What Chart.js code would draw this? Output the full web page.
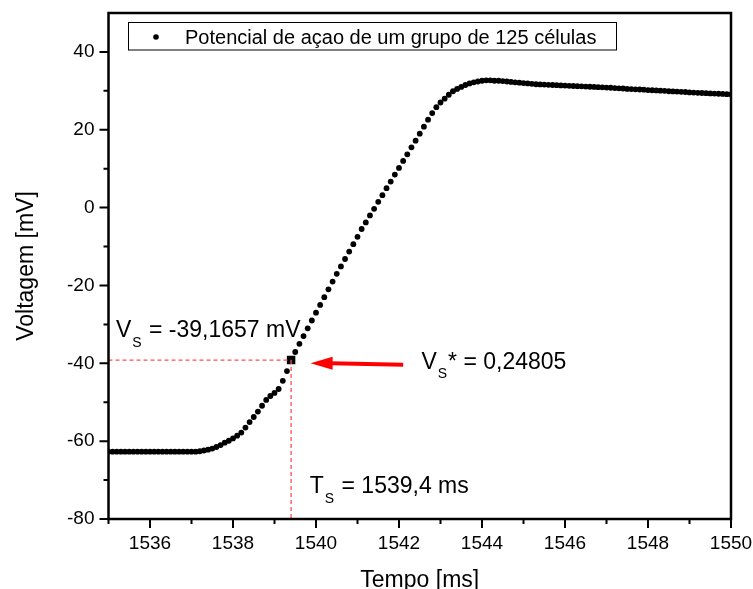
<!DOCTYPE html>
<html><head><meta charset="utf-8">
<script src="https://cdn.jsdelivr.net/npm/chart.js@4.4.0/dist/chart.umd.min.js"></script>
<style>html,body{margin:0;padding:0;background:#fff;}canvas{display:block;}</style>
</head><body>
<canvas id="c" width="753" height="589"></canvas>
<script>
// ---- data ----
const times = [
 1535.0,1535.1,1535.2,1535.3,1535.4,1535.5,1535.6,1535.7,1535.8,1535.9,
 1536.0,1536.1,1536.2,1536.3,1536.4,1536.5,1536.6,1536.7,1536.8,1536.9,
 1537.0,1537.1,1537.2,1537.3,1537.4,1537.5,1537.6,1537.7,1537.8,1537.9,
 1538.0,1538.1,1538.2,1538.3,1538.4,1538.5,1538.6,1538.7,1538.8,1538.9,
 1539.0,1539.1,1539.2,1539.3,1539.4,1539.5,1539.6,1539.7,1539.8,1539.9,
 1540.0,1540.1,1540.2,1540.3,1540.4,1540.5,1540.6,1540.7,1540.8,1540.9,
 1541.0,1541.1,1541.2,1541.3,1541.4,1541.5,1541.6,1541.7,1541.8,1541.9,
 1542.0,1542.1,1542.2,1542.3,1542.4,1542.5,1542.6,1542.7,1542.8,1542.9,
 1543.0,1543.1,1543.2,1543.3,1543.4,1543.5,1543.6,1543.7,1543.8,1543.9,
 1544.0,1544.1,1544.2,1544.3,1544.4,1544.5,1544.6,1544.7,1544.8,1544.9,
 1545.0,1545.1,1545.2,1545.3,1545.4,1545.5,1545.6,1545.7,1545.8,1545.9,
 1546.0,1546.1,1546.2,1546.3,1546.4,1546.5,1546.6,1546.7,1546.8,1546.9,
 1547.0,1547.1,1547.2,1547.3,1547.4,1547.5,1547.6,1547.7,1547.8,1547.9,
 1548.0,1548.1,1548.2,1548.3,1548.4,1548.5,1548.6,1548.7,1548.8,1548.9,
 1549.0,1549.1,1549.2,1549.3,1549.4,1549.5,1549.6,1549.7,1549.8,1549.9,
 1550.0
];
const voltage = [
 -62.7,-62.7,-62.7,-62.7,-62.7,-62.7,-62.7,-62.7,-62.7,-62.7,
 -62.7,-62.7,-62.7,-62.7,-62.7,-62.7,-62.7,-62.7,-62.7,-62.7,
 -62.7,-62.7,-62.6,-62.4,-62.2,-61.9,-61.5,-61.0,-60.4,-59.9,
 -59.3,-58.6,-57.8,-56.5,-55.1,-53.8,-52.4,-50.9,-49.4,-48.4,
 -47.6,-46.6,-44.5,-42.0,-39.2,-37.1,-35.0,-33.0,-31.0,-29.0,
 -27.0,-25.0,-23.0,-21.0,-19.0,-17.0,-15.1,-13.2,-11.3,-9.4,
 -7.5,-5.5,-3.8,-2.0,-0.3,1.5,3.2,5.0,6.7,8.5,
 10.2,12.0,13.7,15.5,17.2,19.0,20.8,22.6,24.3,25.8,
 27.0,28.0,29.0,29.9,30.5,31.0,31.5,31.9,32.2,32.4,
 32.6,32.7,32.7,32.6,32.6,32.5,32.4,32.3,32.2,32.1,
 32.0,31.9,31.8,31.7,31.65,31.6,31.55,31.5,31.45,31.4,
 31.35,31.3,31.25,31.2,31.15,31.1,31.05,31.0,30.95,30.9,
 30.85,30.8,30.7,30.65,30.6,30.5,30.45,30.4,30.35,30.3,
 30.2,30.15,30.1,30.05,30.0,29.9,29.85,29.8,29.75,29.7,
 29.6,29.55,29.5,29.45,29.4,29.35,29.3,29.25,29.2,29.15,
 29.1
];
const thresholdT = [1539.4];
const thresholdV = [-39.1657];
const xMajorTicks = [1536,1538,1540,1542,1544,1546,1548,1550];
const xMinorTicks = [1535,1537,1539,1541,1543,1545,1547,1549];
const yMajorTicks = [-80,-60,-40,-20,0,20,40];
const yMinorTicks = [-70,-50,-30,-10,10,30];
const seriesLabel = 'Potencial de açao de um grupo de 125 células';
const xTitle = 'Tempo [ms]';
const yTitle = 'Voltagem [mV]';
const vsText = ['V','S',' = -39,1657 mV'];
const vsStarText = ['V','S','*',' = 0,24805'];
const tsText = ['T','S',' = 1539,4 ms'];
// annotation anchors, in data units
const vsAnchor = [1535.18, -33.2];
const vsStarAnchor = [1542.54, -41.4];
const tsAnchor = [1539.85, -73.4];
const arrowFrom = [1542.1, -40.4];
const arrowTo = [1539.87, -40.0];

const FONT = "'Liberation Sans', Arial, sans-serif";

function subText(ctx, parts, x, y, size) {
  ctx.font = size + 'px ' + FONT;
  ctx.fillText(parts[0], x, y);
  let cx = x + ctx.measureText(parts[0]).width + 1;
  ctx.font = Math.round(size*0.6) + 'px ' + FONT;
  ctx.fillText(parts[1], cx, y + size*0.42);
  let sw = ctx.measureText(parts[1]).width;
  let rest = parts[parts.length-1];
  if (parts.length === 4) {
    ctx.font = size + 'px ' + FONT;
    ctx.fillText(parts[2], cx + sw + 1, y);
    cx = cx + sw + 1 + ctx.measureText(parts[2]).width;
  } else {
    cx = cx + sw + 1;
  }
  ctx.font = size + 'px ' + FONT;
  ctx.fillText(rest, cx, y);
}

const deco = {
  id: 'deco',
  afterDatasetsDraw(chart) {
    const {ctx, chartArea: a, scales: {x, y}} = chart;
    const px = x.getPixelForValue(thresholdT[0]);
    const py = y.getPixelForValue(thresholdV[0]);
    ctx.save();
    ctx.strokeStyle = '#ff5050';
    ctx.lineWidth = 1.3;
    ctx.setLineDash([4, 3]);
    ctx.beginPath();
    ctx.moveTo(a.left, py); ctx.lineTo(px, py);
    ctx.moveTo(px, py); ctx.lineTo(px, a.bottom);
    ctx.stroke();
    ctx.restore();

    const x1 = x.getPixelForValue(arrowFrom[0]), y1 = y.getPixelForValue(arrowFrom[1]);
    const x2 = x.getPixelForValue(arrowTo[0]), y2 = y.getPixelForValue(arrowTo[1]);
    ctx.save();
    ctx.strokeStyle = '#ff0000'; ctx.fillStyle = '#ff0000';
    ctx.lineWidth = 4;
    ctx.beginPath(); ctx.moveTo(x1, y1); ctx.lineTo(x2 + 20, y2); ctx.stroke();
    ctx.beginPath();
    ctx.moveTo(x2, y2); ctx.lineTo(x2 + 22, y2 - 6.5); ctx.lineTo(x2 + 22, y2 + 6.5); ctx.closePath();
    ctx.fill();
    ctx.restore();
  },
  afterDraw(chart) {
    const {ctx, chartArea: a, scales: {x, y}} = chart;
    ctx.save();
    ctx.strokeStyle = '#000';
    ctx.lineCap = 'butt';
    ctx.lineWidth = 2;
    ctx.beginPath();
    xMajorTicks.forEach(v => { const p = x.getPixelForValue(v); ctx.moveTo(p, a.bottom); ctx.lineTo(p, a.bottom + 9); });
    xMinorTicks.forEach(v => { const p = x.getPixelForValue(v); ctx.moveTo(p, a.bottom); ctx.lineTo(p, a.bottom + 5); });
    yMajorTicks.forEach(v => { const p = y.getPixelForValue(v); ctx.moveTo(a.left, p); ctx.lineTo(a.left - 9, p); });
    yMinorTicks.forEach(v => { const p = y.getPixelForValue(v); ctx.moveTo(a.left, p); ctx.lineTo(a.left - 5, p); });
    ctx.stroke();
    ctx.lineWidth = 2.5;
    ctx.strokeRect(a.left, a.top, a.right - a.left, a.bottom - a.top);

    ctx.lineWidth = 1;
    ctx.strokeRect(128.5, 22.5, 488, 27.5);
    ctx.fillStyle = '#000';
    ctx.beginPath(); ctx.arc(156, 37, 2.8, 0, Math.PI*2); ctx.fill();
    ctx.font = '20px ' + FONT;
    ctx.textBaseline = 'alphabetic';
    ctx.textAlign = 'left';
    ctx.fillText(seriesLabel, 185, 43.5);

    ctx.font = '23px ' + FONT;
    ctx.textAlign = 'center';
    ctx.fillText(xTitle, (a.left + a.right)/2, 587);
    ctx.save();
    ctx.translate(33, (a.top + a.bottom)/2);
    ctx.rotate(-Math.PI/2);
    ctx.fillText(yTitle, 0, 0);
    ctx.restore();

    ctx.textAlign = 'left';
    subText(ctx, vsText, x.getPixelForValue(vsAnchor[0]), y.getPixelForValue(vsAnchor[1]), 23);
    subText(ctx, vsStarText, x.getPixelForValue(vsStarAnchor[0]), y.getPixelForValue(vsStarAnchor[1]), 23);
    subText(ctx, tsText, x.getPixelForValue(tsAnchor[0]), y.getPixelForValue(tsAnchor[1]), 23);
    ctx.restore();
  }
};

new Chart(document.getElementById('c'), {
  type: 'scatter',
  data: {
    datasets: [
      {
        label: 'threshold',
        data: thresholdT.map((t, i) => ({x: t, y: thresholdV[i]})),
        pointStyle: 'rect',
        pointRadius: 6,
        backgroundColor: '#000',
        borderColor: '#000',
        borderWidth: 0
      },
      {
        label: seriesLabel,
        data: times.map((t, i) => ({x: t, y: voltage[i]})),
        pointRadius: 2.9,
        pointBackgroundColor: '#000',
        pointBorderWidth: 0,
        showLine: false
      }
    ]
  },
  options: {
    responsive: false,
    animation: false,
    devicePixelRatio: 1,
    layout: {padding: {left: 0, top: 13, right: 22, bottom: 0}},
    plugins: {legend: {display: false}, tooltip: {enabled: false}},
    scales: {
      x: {
        type: 'linear', min: 1535, max: 1550,
        grid: {display: false, drawTicks: false},
        border: {display: false},
        afterBuildTicks: s => { s.ticks = xMajorTicks.map(v => ({value: v})); },
        afterFit: s => { s.height = 70; s.paddingLeft = 0; s.paddingRight = 0; },
        ticks: {
          color: '#000', padding: 13, maxRotation: 0, autoSkip: false,
          font: {family: FONT, size: 19},
          callback: v => String(v)
        }
      },
      y: {
        type: 'linear', min: -80, max: 50,
        grid: {display: false, drawTicks: false},
        border: {display: false},
        afterBuildTicks: s => { s.ticks = yMajorTicks.map(v => ({value: v})); },
        afterFit: s => { s.width = 108.5; s.paddingTop = 0; s.paddingBottom = 0; },
        ticks: {
          color: '#000', padding: 14,
          font: {family: FONT, size: 19},
          callback: v => String(v)
        }
      }
    }
  },
  plugins: [deco]
});
</script>
</body></html>
